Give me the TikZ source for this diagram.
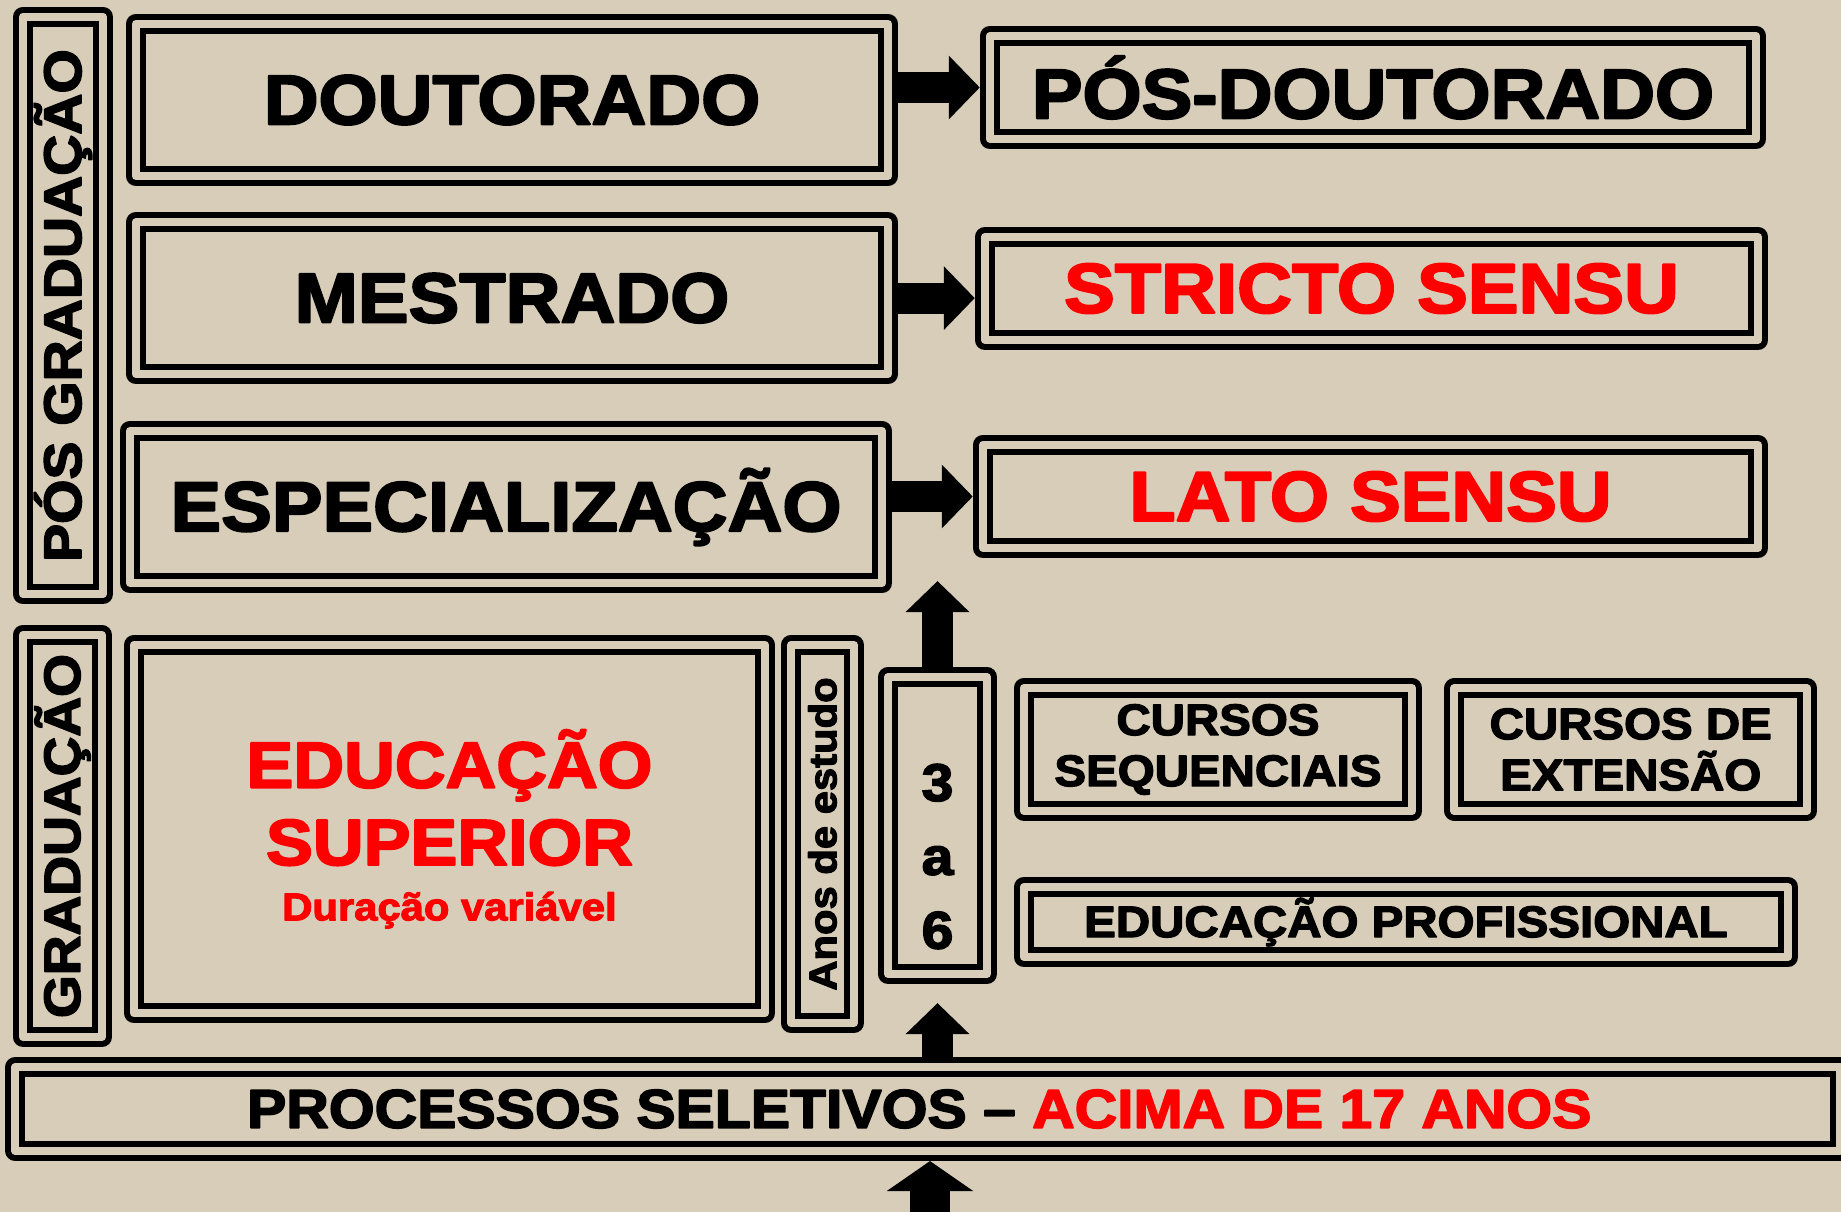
\documentclass[tikz,border=0pt]{standalone}
\usepackage{fontspec}
\setmainfont{Liberation Sans}[FakeStretch=1.08, BoldFeatures={FakeBold=3}]
\usetikzlibrary{positioning, arrows.meta}
\definecolor{linen}{RGB}{215,205,185}

\begin{document}
\begin{tikzpicture}[x=0.01cm, y=-0.01cm,
        dbox/.style={rectangle, draw, line width=0.06cm, double=linen, double distance=0.08cm,
            line join=round, inner sep=0pt, outer sep=0.1cm, align=center},
        bigfont/.style={font=\bfseries\fontsize{20pt}{24pt}\selectfont},
        midfont/.style={font=\bfseries\fontsize{12.5pt}{14.5pt}\selectfont},
        sidefont/.style={font=\bfseries\fontsize{15pt}{18pt}\selectfont},
        fatarrow/.style={line width=0.31cm, -{Triangle[width=0.62cm, length=0.31cm]}}]

        % Background
        \fill[linen] (0,0) rectangle (1841,1212);
        \useasboundingbox (0,0) rectangle (1841,1212);
        \clip (0,0) rectangle (1841,1212);

        %-----Pos-Graduacao-----

        % Pos Graduacao Side Box
        \node [dbox, sidefont, rotate=90, minimum width=5.77cm, minimum height=0.8cm] (posgrad) at (63,305.5) {PÓS GRADUAÇÃO};

        % Doutorado Box
        \node [dbox, bigfont, minimum width=7.52cm, minimum height=1.52cm] (dout) at (512,100) {DOUTORADO};

        % Mestrado Box
        \node [dbox, bigfont, minimum width=7.52cm, minimum height=1.52cm, below=0.26cm of dout] (mest) {MESTRADO};

        % Especializacao Box
        \node [dbox, bigfont, minimum width=7.52cm, minimum height=1.52cm] (espec) at (506,507) {ESPECIALIZAÇÃO};

        % Pos-Doutorado Box
        \node [dbox, bigfont, minimum width=7.66cm, minimum height=1.03cm] (posdout) at (1373,87.5) {PÓS-DOUTORADO};

        % Stricto Sensu Box
        \node [dbox, bigfont, text=red, minimum width=7.73cm, minimum height=1.03cm] (stricto) at (1371.5,288.5) {STRICTO SENSU};

        % Lato Sensu Box
        \node [dbox, bigfont, text=red, minimum width=7.75cm, minimum height=1.03cm] (lato) at (1370.5,496.5) {LATO SENSU};

        %-----Graduacao-----

        % Graduacao Side Box
        \node [dbox, font=\bfseries\fontsize{14.5pt}{18pt}\selectfont, rotate=90, minimum width=4.02cm, minimum height=0.79cm] (grad) at (62.5,836) {GRADUAÇÃO};

        % Educacao Superior Box
        \node [dbox, text=red, font=\bfseries\fontsize{18.5pt}{22pt}\selectfont, minimum width=6.31cm, minimum height=3.68cm] (edsup) at (449.5,829) {%
            EDUCAÇÃO\\
            SUPERIOR\\[-0.22cm]
            {\fontsize{11pt}{14pt}\selectfont Duração variável}
        };

        % Anos de Estudo Box
        \node [dbox, font=\bfseries\fontsize{11pt}{13pt}\selectfont, rotate=90, minimum width=3.78cm, minimum height=0.63cm] (anos) at (822.5,834) {Anos de estudo};

        % 3 a 6 Box
        \node [dbox, minimum width=0.99cm, minimum height=2.97cm,
            label={[font=\bfseries\fontsize{15pt}{21pt}\selectfont, align=center, yshift=-0.31cm]center:{3\\a\\6}}] (tres) at (937.5,825.5) {};

        % Cursos Sequenciais Box
        \node [dbox, midfont, minimum width=3.88cm, minimum height=1.23cm] (cseq) at (1218,749.5) {%
            CURSOS\\
            SEQUENCIAIS
        };

        % Cursos de Extensao Box
        \node [dbox, midfont, minimum width=3.53cm, minimum height=1.22cm, right=0.22cm of cseq] (cext) {%
            CURSOS DE\\
            EXTENSÃO
        };

        % Educacao Profissional Box
        \node [dbox, midfont, minimum width=7.64cm, minimum height=0.70cm] (edprof) at (1406,922) {EDUCAÇÃO PROFISSIONAL};

        % Processos Seletivos Box
        \node [dbox, font=\bfseries\fontsize{15.5pt}{18pt}\selectfont, minimum width=18.23cm, minimum height=0.84cm] (proc) at (927.5,1109) {%
            PROCESSOS SELETIVOS – \textcolor{red}{ACIMA DE 17 ANOS}
        };

        %-----Arrows-----

        % Connect Doutorado to Pos-Doutorado
        \draw[fatarrow] (dout.east |- posdout.west) -- (posdout.west);

        % Connect Mestrado to Stricto Sensu
        \draw[fatarrow] (mest.east) -- (mest.east -| stricto.west);

        % Connect Especializacao to Lato Sensu
        \draw[fatarrow] (espec.east |- lato.west) -- (lato.west);

        % Connect 3 a 6 to Lato Sensu
        \draw[fatarrow, shorten >=0.23cm] (tres.north) -- (tres.north |- lato.south);

        % Connect Processos Seletivos to 3 a 6
        \draw[fatarrow, shorten >=0.19cm] (proc.north -| tres.south) -- (tres.south);

        % Entry arrow into Processos Seletivos
        \coordinate (entry) at (930,1240);
        \draw[line width=0.4cm, -{Triangle[width=0.85cm, length=0.3cm]}] (entry) -- (entry |- proc.south);

    \end{tikzpicture}
\end{document}
